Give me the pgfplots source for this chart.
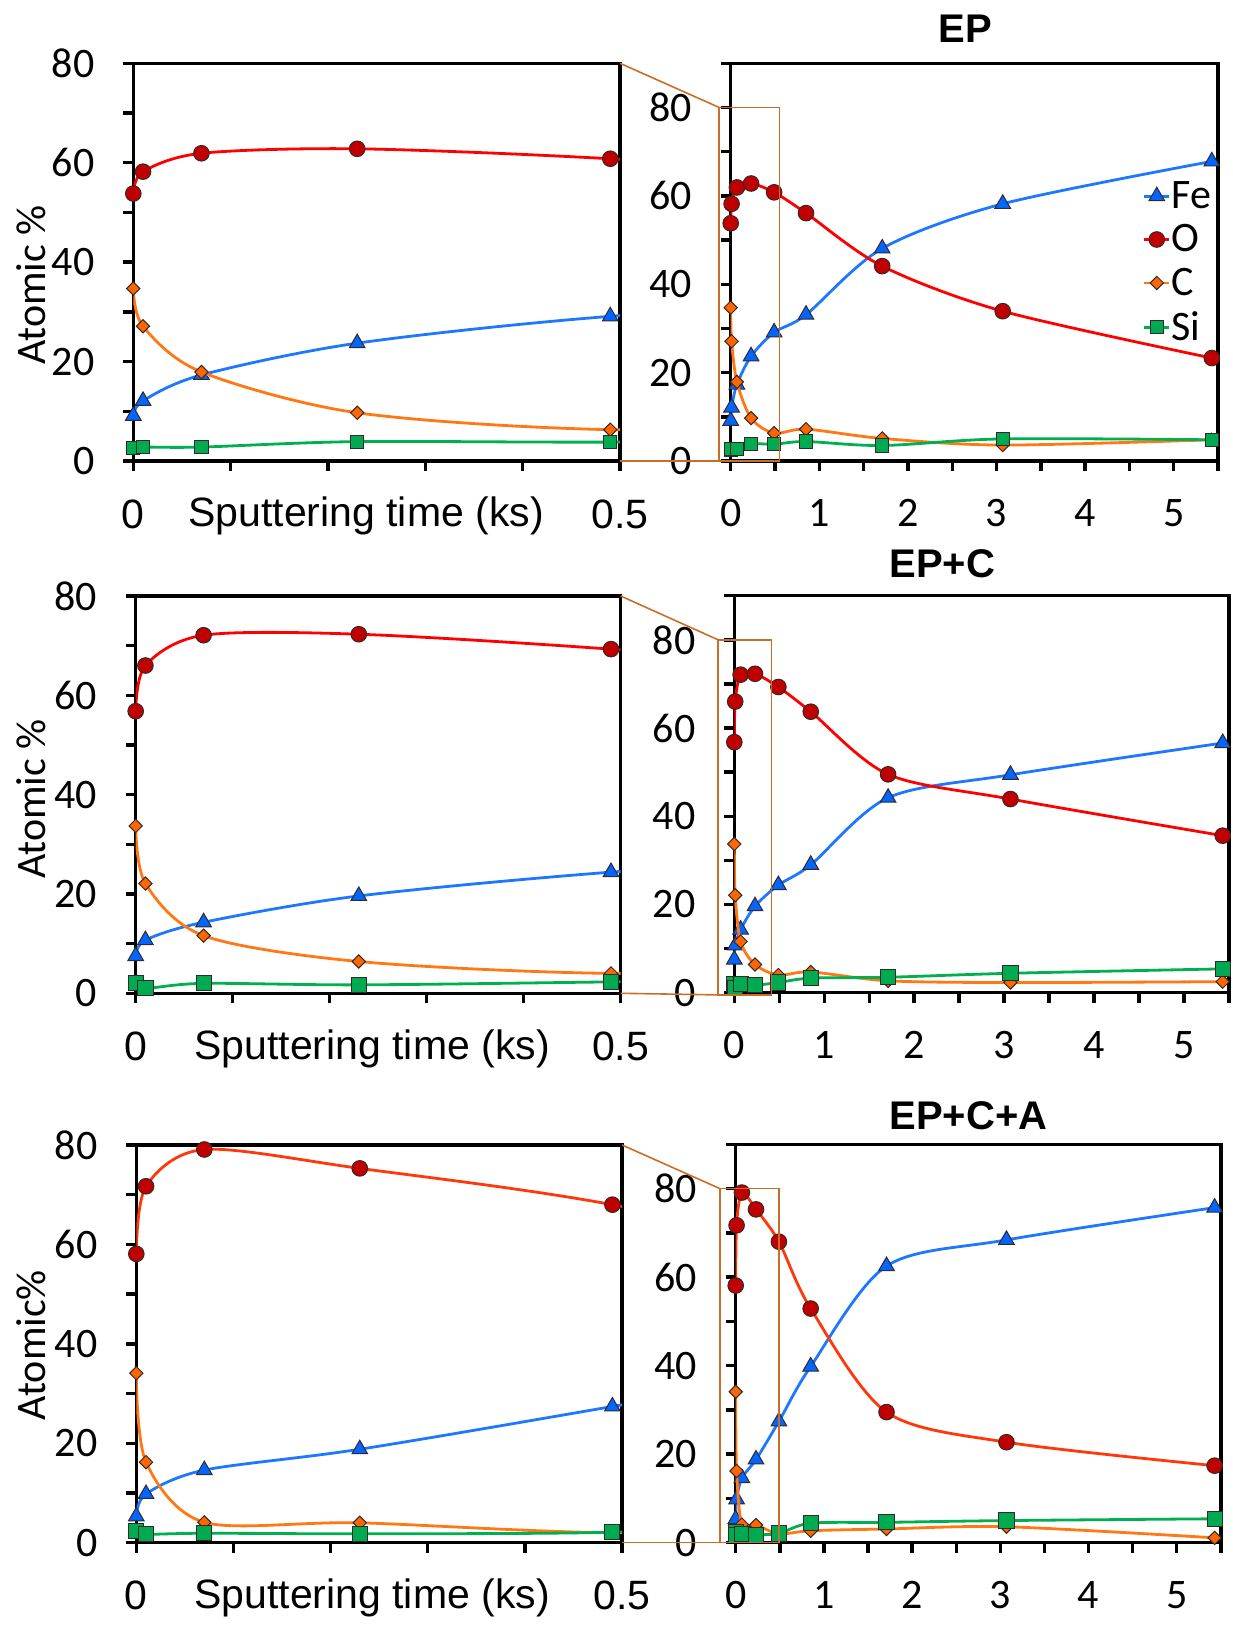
\documentclass[border=0pt]{standalone}
\usepackage{pgfplots}
\pgfplotsset{compat=1.18}
\usepackage{pgfplotstable}
\usepackage{fontspec}
\setmainfont{Carlito}
\newfontfamily\arialfont{Liberation Sans}

\definecolor{feline}{RGB}{30,120,255}
\definecolor{fefill}{RGB}{0,102,255}
\definecolor{oline}{RGB}{255,0,0}
\definecolor{olineb}{RGB}{255,55,10}
\definecolor{ofill}{RGB}{192,0,0}
\definecolor{cline}{RGB}{255,120,20}
\definecolor{cfill}{RGB}{255,102,0}
\definecolor{siline}{RGB}{0,176,80}
\definecolor{sifill}{RGB}{0,170,80}
\definecolor{markedge}{RGB}{55,40,40}
\definecolor{zoombox}{RGB}{200,110,40}

% sputtering time (ks) and atomic % of Fe, O, C, Si
\pgfplotstableread{
t    Fe    O     C     Si
0    9.1   53.8  34.7  2.6
0.01 12.1  58.2  27.1  2.8
0.07 17.3  61.9  17.9  2.8
0.23 23.7  62.8  9.7   3.9
0.49 29.1  60.8  6.3   3.8
0.85 33.1  56.1  7.2   4.4
1.71 48.1  44.1  5.1   3.5
3.07 58.2  33.9  3.6   5.0
5.43 67.8  23.3  4.8   4.8
}\dataEP

\pgfplotstableread{
t    Fe    O     C     Si
0    7.5   56.8  33.7  2.0
0.01 10.7  66.0  22.1  1.0
0.07 14.3  72.1  11.6  2.0
0.23 19.6  72.3  6.4   1.7
0.49 24.4  69.3  4.0   2.3
0.85 29.0  63.7  4.7   3.3
1.71 44.2  49.5  2.7   3.5
3.07 49.4  43.9  2.3   4.4
5.43 56.6  35.6  2.5   5.4
}\dataEPC

\pgfplotstableread{
t    Fe    O     C     Si
0    5.3   58.1  34.1  2.3
0.01 9.8   71.7  16.2  1.7
0.07 14.6  79.1  4.1   1.9
0.23 18.8  75.3  4.0   1.8
0.49 27.4  68.0  2.0   2.1
0.85 39.8  52.9  2.7   4.4
1.71 62.5  29.5  3.1   4.6
3.07 68.4  22.7  3.6   5.0
5.43 75.7  17.4  1.1   5.4
}\dataEPCA

\tikzset{connector/.style={draw=zoombox, line width=0.8pt}}

\pgfplotsset{
  panel/.style={
    scale only axis,
    clip mode=individual,
    axis line style={line width=1.7pt},
    tick style={black, line width=1.7pt},
    major tick length=5pt, minor tick length=5pt,
    tick align=outside,
    xtick pos=left, ytick pos=left,
    ymin=0,
    /pgf/number format/assume math mode=true,
    tick label style={font=\fontsize{21}{21}\selectfont},
    yticklabel style={inner sep=0pt},
    xticklabel style={inner sep=0pt},
    yticklabel shift=14.3pt,
    xticklabel shift=14pt,
  },
  leftpanel/.style={panel,
    xmin=0, xmax=0.5, ymax=80,
    xtick={0,0.5}, minor xtick={0.1,0.2,0.3,0.4},
    ytick={0,20,...,80}, minor ytick={10,30,50,70},
    xticklabel style={font=\arialfont\fontsize{20.5}{20.5}\selectfont},
  },
  rightpanel/.style={panel,
    xmin=0, xmax=5.5, ymax=90,
    xtick={0,...,5}, minor xtick={0.5,1.5,2.5,3.5,4.5,5.5},
    ytick={0,20,...,80}, minor ytick={10,30,50,70,90},
  },
  fe/.style={color=feline, line width=1.4pt, mark=triangle*, mark size=4.5pt,
    mark options={fill=fefill, draw=markedge, line width=0.5pt, solid}},
  o/.style={color=oline, line width=1.4pt, mark=*, mark size=3.9pt,
    mark options={fill=ofill, draw=markedge, line width=0.5pt, solid}},
  c/.style={color=cline, line width=1.4pt, mark=square*, mark size=2.35pt,
    mark options={fill=cfill, draw=markedge, line width=0.5pt, solid, rotate=45}},
  si/.style={color=siline, line width=1.4pt, mark=square*, mark size=3.3pt,
    mark options={fill=sifill, draw=markedge, line width=0.5pt, solid}},
}

% left panels: curves run over the whole series, markers only within 0-0.5 ks
\newcommand\leftplots[3]{%
  \addplot[fe, no markers, smooth] table[x=t,y=Fe]{#1};
  \addplot[fe, only marks, restrict x to domain=-1:0.5] table[x=t,y=Fe]{#1};
  \addplot[o, color=#2, no markers, smooth] table[x=t,y=O]{#1};
  \addplot[o, only marks, restrict x to domain=-1:0.5] table[x=t,y=O]{#1};
  \addplot[c, no markers, smooth] table[x=t,y=C]{#1};
  \addplot[c, only marks, restrict x to domain=-1:0.5] table[x=t,y=C]{#1};
  \addplot[si, no markers, smooth] table[x=t,y=Si]{#1};
  \addplot[si, mark size=#3, only marks, restrict x to domain=-1:0.5] table[x=t,y=Si]{#1};
}
\newcommand\rightplots[3]{%
  \addplot[fe, smooth] table[x=t,y=Fe]{#1};
  \addplot[o, color=#2, smooth] table[x=t,y=O]{#1};
  \addplot[c, smooth] table[x=t,y=C]{#1};
  \addplot[si, mark size=#3, smooth] table[x=t,y=Si]{#1};
}

\newcommand\ylab[1]{\fontsize{21}{21}\selectfont #1}
\newcommand\xlab{\arialfont\fontsize{20.5}{20.5}\selectfont Sputtering time (ks)}
\newcommand\ttl[1]{\arialfont\bfseries\fontsize{20}{20}\selectfont #1}

\begin{document}
\begin{tikzpicture}
\path[use as bounding box] (0pt,0pt) rectangle (616pt,814pt);

% ---------- EP ----------
\begin{axis}[leftpanel, name=L1, at={(66.65pt,583.5pt)}, anchor=south west,
  width=243.35pt, height=198.85pt]
  \leftplots{\dataEP}{oline}{3.3pt}
\end{axis}
\begin{axis}[rightpanel, name=R1, at={(365.35pt,583.5pt)}, anchor=south west,
  width=243.65pt, height=198.85pt,
  legend style={at={(0.845,0.707)}, anchor=north west, draw=none, fill=none,
    font=\fontsize{21}{21}\selectfont, row sep=5.6pt, inner sep=0pt,
    nodes={inner sep=0.5pt}},
  legend cell align=left,
  legend image code/.code={\draw[mark repeat=2,mark phase=2] plot coordinates {(0pt,0pt) (6.25pt,0pt) (12.5pt,0pt)};}]
  \rightplots{\dataEP}{oline}{3.3pt}
  \legend{Fe,O,C,Si}
  \coordinate (b1a) at (axis cs:-0.13,0);
  \coordinate (b1b) at (axis cs:0.55,80);
  \coordinate (b1c) at (axis cs:-0.13,80);
\end{axis}
\draw[connector] (b1a) rectangle (b1b);
\draw[connector] (L1.north east) -- (b1c);
\draw[connector] (L1.south east) -- (b1a);
\node[rotate=90] at (15.5pt,671.5pt) {\ylab{Atomic \%}};
\node[anchor=base] at (183pt,550.5pt) {\xlab};
\node[anchor=base] at (482.5pt,792.5pt) {\ttl{EP}};

% ---------- EP+C ----------
\begin{axis}[leftpanel, name=L2, at={(67.85pt,317.35pt)}, anchor=south west,
  width=242.5pt, height=198.65pt]
  \leftplots{\dataEPC}{oline}{3.8pt}
\end{axis}
\begin{axis}[rightpanel, name=R2, at={(367.15pt,317.65pt)}, anchor=south west,
  width=247.35pt, height=198.5pt]
  \rightplots{\dataEPC}{oline}{3.8pt}
  \coordinate (b2a) at (axis cs:-0.18,-0.5);
  \coordinate (b2b) at (axis cs:0.415,80);
  \coordinate (b2c) at (axis cs:-0.18,80);
\end{axis}
\draw[connector] (b2a) rectangle (b2b);
\draw[connector] (L2.north east) -- (b2c);
\draw[connector] (L2.south east) -- (b2a);
\node[rotate=90] at (15.75pt,414.5pt) {\ylab{Atomic \%}};
\node[anchor=base] at (186pt,284.35pt) {\xlab};
\node[anchor=base] at (471.2pt,525.2pt) {\ttl{EP+C}};

% ---------- EP+C+A ----------
\begin{axis}[leftpanel, name=L3, at={(68.15pt,42.65pt)}, anchor=south west,
  width=242.9pt, height=198.85pt]
  \leftplots{\dataEPCA}{olineb}{3.8pt}
\end{axis}
\begin{axis}[rightpanel, name=R3, at={(367.85pt,42.65pt)}, anchor=south west,
  width=242.55pt, height=199.2pt]
  \rightplots{\dataEPCA}{olineb}{3.8pt}
  \coordinate (b3a) at (axis cs:-0.18,0);
  \coordinate (b3b) at (axis cs:0.49,80);
  \coordinate (b3c) at (axis cs:-0.18,80);
\end{axis}
\draw[connector] (b3a) rectangle (b3b);
\draw[connector] (L3.north east) -- (b3c);
\draw[connector] (L3.south east) -- (b3a);
\node[rotate=90] at (15.5pt,141.5pt) {\ylab{Atomic\%}};
\node[anchor=base] at (186pt,9.65pt) {\xlab};
\node[anchor=base] at (484.2pt,249.15pt) {\ttl{EP+C+A}};
\end{tikzpicture}
\end{document}
